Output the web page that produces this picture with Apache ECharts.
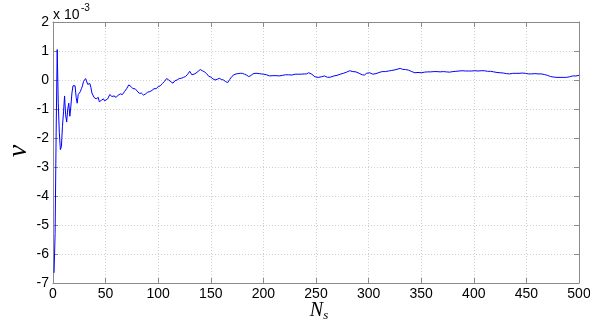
<!DOCTYPE html>
<html>
<head>
<meta charset="utf-8">
<script src="https://cdn.jsdelivr.net/npm/echarts@6/dist/echarts.min.js"></script>
<style>html,body{margin:0;padding:0;background:#fff}#c{width:590px;height:320px}</style>
</head>
<body>
<div id="c"></div>
<script>
// N_s sample positions
var ns = [1,2,3,4,5,6,7,8,9,10,11,12,13,14,15,16,17,18,19,20,21,22,23,24,25,26,27,28,29,30,
  31,32,33,34,35,36,37,38,39,40,41,42,43,44,45,46,47,48,49,50,
  52,54,56,58,60,62,64,66,68,70,72,74,76,78,80,82,84,86,88,90,92,94,96,98,100,
  102,104,106,108,110,112,114,116,118,120,122,124,126,128,130,132,134,136,138,140,
  142,144,146,148,150,152,154,156,158,160,162,164,166,168,170,172,174,176,178,180,
  182,184,186,188,190,192,194,196,198,200,203,206,209,212,215,218,221,224,227,230,
  233,236,239,241,243,246,249,252,255,258,261,264,267,270,273,276,279,282,285,288,
  291,294,296,298,301,304,307,310,313,316,319,322,325,328,330,332,335,338,341,344,
  347,350,353,356,359,362,365,368,371,374,377,380,383,386,389,392,395,398,401,404,
  407,410,413,416,419,422,425,428,431,434,437,440,443,446,449,452,455,458,461,464,
  467,470,473,476,479,482,485,488,491,494,497,500];
// nu values, in units of 1e-3
var nu = [-6.65,-5.3,-1.8,1.05,-0.8,-1.8,-2.4,-2.3,-1.6,-1.1,-0.55,-1.2,-1.45,-1.0,-0.8,-1.25,-0.9,-0.45,-0.2,-0.15,
  -0.2,-0.6,-0.8,-0.5,-0.55,-0.4,-0.3,-0.2,-0.05,0.0,0.05,0.02,-0.15,-0.2,-0.12,-0.25,-0.45,-0.45,-0.6,-0.55,
  -0.65,-0.7,-0.6,-0.75,-0.8,-0.7,-0.75,-0.65,-0.72,-0.78,
  -0.65,-0.5,-0.57,-0.55,-0.6,-0.52,-0.48,-0.5,-0.4,-0.3,-0.17,-0.22,-0.3,-0.3,-0.38,-0.46,-0.45,-0.52,-0.48,-0.42,
  -0.4,-0.36,-0.3,-0.3,-0.23,
  -0.2,-0.12,-0.05,0.05,0.0,-0.06,-0.11,-0.02,0.0,0.05,0.06,0.09,0.12,0.2,0.3,0.18,0.2,0.24,0.3,0.36,
  0.32,0.28,0.22,0.13,0.1,0.04,0.0,0.02,0.06,0.02,0.0,-0.05,-0.09,0.02,0.12,0.18,0.21,0.22,0.23,0.23,
  0.2,0.17,0.12,0.15,0.21,0.23,0.23,0.22,0.21,0.2,0.18,0.14,0.15,0.15,0.14,0.16,0.18,0.18,0.17,0.2,
  0.2,0.2,0.21,0.21,0.25,0.2,0.11,0.09,0.11,0.14,0.09,0.1,0.14,0.16,0.2,0.23,0.27,0.32,0.29,0.28,
  0.23,0.18,0.17,0.23,0.25,0.2,0.22,0.26,0.29,0.29,0.31,0.33,0.35,0.38,0.40,0.37,0.36,0.34,0.29,0.25,
  0.26,0.25,0.27,0.28,0.28,0.29,0.29,0.28,0.29,0.28,0.27,0.29,0.30,0.31,0.32,0.31,0.31,0.31,0.32,0.31,
  0.32,0.32,0.30,0.30,0.28,0.26,0.25,0.24,0.22,0.21,0.23,0.23,0.23,0.24,0.23,0.21,0.21,0.22,0.21,0.21,
  0.19,0.16,0.12,0.10,0.09,0.09,0.09,0.09,0.11,0.14,0.14,0.16];
var xTicks = [0,50,100,150,200,250,300,350,400,450,500];
var yTicks = [-7,-6,-5,-4,-3,-2,-1,0,1,2];

var pts = ns.map(function(n,i){return [n, nu[i]];});
var axisCol = '#8a8a8a';
var gridLine = {show:true, lineStyle:{color:'#cfcfcf', type:[1,2], width:1}};
var lblFont = {color:'#000', fontFamily:'Liberation Sans, Arial, sans-serif', fontSize:14};
var serif = 'Liberation Serif, Times New Roman, serif';

var chart = echarts.init(document.getElementById('c'), null, {renderer:'canvas'});
chart.setOption({
  animation:false,
  backgroundColor:'#fff',
  grid:{left:53, right:11, top:22, bottom:37, containLabel:false, outerBoundsMode:'none'},
  xAxis:[{
    type:'value', min:xTicks[0], max:xTicks[xTicks.length-1], interval:50,
    axisLine:{show:true, onZero:false, lineStyle:{color:axisCol}},
    axisTick:{show:true, inside:true, length:5, lineStyle:{color:axisCol}},
    axisLabel:Object.assign({margin:4}, lblFont),
    splitLine:gridLine
  },{
    type:'value', position:'top', min:0, max:500, interval:50,
    axisLine:{show:true, onZero:false, lineStyle:{color:axisCol}},
    axisTick:{show:true, inside:true, length:5, lineStyle:{color:axisCol}},
    axisLabel:{show:false}, splitLine:{show:false}
  }],
  yAxis:[{
    type:'value', min:yTicks[0], max:yTicks[yTicks.length-1], interval:1,
    axisLine:{show:true, onZero:false, lineStyle:{color:axisCol}},
    axisTick:{show:true, inside:true, length:5, lineStyle:{color:axisCol}},
    axisLabel:Object.assign({margin:4}, lblFont),
    splitLine:gridLine
  },{
    type:'value', position:'right', min:-7, max:2, interval:1,
    axisLine:{show:true, onZero:false, lineStyle:{color:axisCol}},
    axisTick:{show:true, inside:true, length:5, lineStyle:{color:axisCol}},
    axisLabel:{show:false}, splitLine:{show:false}
  }],
  graphic:[{
    type:'text', left:53, top:8,
    style:{text:'x 10', fontFamily:'Liberation Sans, Arial, sans-serif', fontSize:14, fill:'#000'}
  },{
    type:'text', left:81, top:3,
    style:{text:'-3', fontFamily:'Liberation Sans, Arial, sans-serif', fontSize:10, fill:'#000'}
  },{
    type:'text', x:19, y:151, rotation:Math.PI/2,
    style:{text:'\u03BD', fontFamily:serif, fontStyle:'italic', fontSize:28, fill:'#000',
      align:'center', verticalAlign:'middle'}
  },{
    type:'text', x:319, y:311,
    style:{text:'{n|N}{s|s}', align:'center', verticalAlign:'middle',
      rich:{
        n:{fontFamily:serif, fontStyle:'italic', fontSize:20, fill:'#000'},
        s:{fontFamily:serif, fontStyle:'italic', fontSize:13, fill:'#000', padding:[9,0,0,0]}
      }}
  }],
  series:[{
    type:'line', data:pts, xAxisIndex:0, yAxisIndex:0,
    showSymbol:false, symbol:'none',
    lineStyle:{color:'#0000ff', width:1},
    z:5
  }]
});
</script>
</body>
</html>
